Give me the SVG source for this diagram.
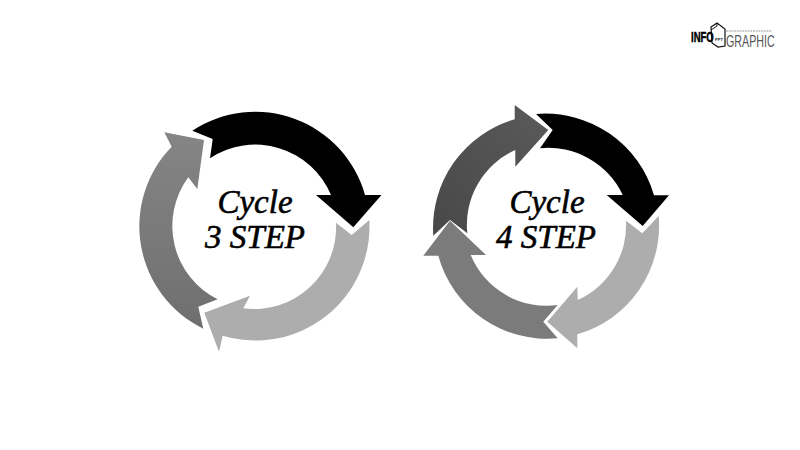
<svg xmlns="http://www.w3.org/2000/svg" width="800" height="450" viewBox="0 0 800 450">
<style>
.t{font-family:"Liberation Serif","DejaVu Serif",serif;font-style:italic;font-size:33px;fill:#000;stroke:#000;stroke-width:.6;text-anchor:middle}
.blk{fill:#000}.lgt{fill:#adadad}.mid{fill:url(#g1)}.mid2{fill:#7b7b7b}.drk{fill:url(#g2)}
.lf{font-family:"Liberation Sans",sans-serif}
</style>
<defs>
<linearGradient id="g1" x1="0" y1="0" x2="0" y2="1"><stop offset="0" stop-color="#858585"/><stop offset="1" stop-color="#6f6f6f"/></linearGradient>
<linearGradient id="g2" x1="0" y1="1" x2="1" y2="0"><stop offset="0" stop-color="#484848"/><stop offset="1" stop-color="#5a5a5a"/></linearGradient>
</defs>
<rect width="800" height="450" fill="#fff"/>
<g id="cycle3">
<g id="c3-black"><path class="blk" d="M192.3 130.7L212.7 139L210 158.3A82 82 0 0 1 331 195L316 195L353.3 227.3L381.5 195L365 195A114 114 0 0 0 192.3 130.7Z"/></g>
<g id="c3-light"><path class="lgt" d="M369.3 220L351.7 235L336 222.7A82 82 0 0 1 243.3 308.3L250 295.7L204.3 312.7L219 351.7L222.7 335.7A114 114 0 0 0 369.3 220Z"/></g>
<g id="c3-mid"><path class="mid" d="M203.3 328.7L198.3 306.7L217.7 299.3A82 82 0 0 1 188.3 177.3L197.3 189L204 140L164.3 132.3L171.7 146.7A114 114 0 0 0 203.3 328.7Z"/></g>
<text class="t" x="255" y="213">Cycle</text>
<text class="t" x="255" y="248">3 STEP</text>
</g>
<g id="cycle4">
<g id="c4-black"><path class="blk" d="M536 114L552.7 130L540 148.3A82 82 0 0 1 622.7 195L606.7 195L642.7 226L669 195.3L654 195.3A113 113 0 0 0 536 114Z"/></g>
<g id="c4-light"><path class="lgt" d="M658.7 216L642.3 233.3L626 220.7A82 82 0 0 1 577.7 300L577.3 286.7L547.3 321.7L577.3 348.3L577.3 334.3A113 113 0 0 0 658.7 216Z"/></g>
<g id="c4-mid"><path class="mid2" d="M557.7 338.3L543.3 321.7L557.7 305A82 82 0 0 1 470.7 255L486 255L450 220.7L423.3 255.7L438.3 255.7A113 113 0 0 0 557.7 338.3Z"/></g>
<g id="c4-dark"><path class="drk" d="M433.3 235.7L450 220L467.3 233.3A82 82 0 0 1 515.3 150L515.3 166.7L548.3 130L514.7 105L514.7 119.3A113 113 0 0 0 433.3 235.7Z"/></g>
<text class="t" x="547" y="213">Cycle</text>
<text class="t" x="546" y="248">4 STEP</text>
</g>
<g id="logo">
<path d="M711 27L717 23L725 29V46L718 47L712 43Z" fill="#fff" stroke="#111" stroke-width="1.2"/>
<path d="M717 23V26L711 30" fill="none" stroke="#111"/>
<line x1="726" y1="31" x2="772" y2="31" stroke="#999" stroke-width="1.2" stroke-dasharray="2 .7"/>
<text class="lf" transform="translate(691,42) scale(.68,1)" font-weight="700" font-size="14" fill="#000" stroke="#000" stroke-width=".5">INFO</text>
<text class="lf" x="719" y="41" font-weight="700" font-size="4" text-anchor="middle" fill="#222">PPT</text>
<text class="lf" transform="translate(726,47) scale(.63,1)" font-size="17" fill="#555">GRAPHIC</text>
</g>
</svg>
